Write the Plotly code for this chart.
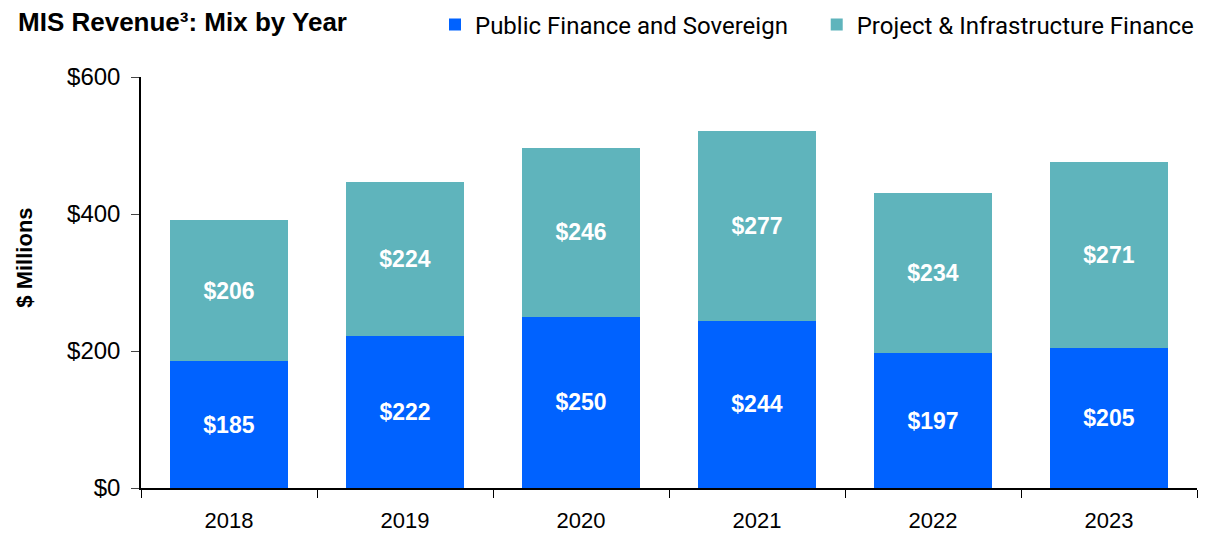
import plotly.graph_objects as go

years = ["2018", "2019", "2020", "2021", "2022", "2023"]
public_finance = [185, 222, 250, 244, 197, 205]
project_finance = [206, 224, 246, 277, 234, 271]

BLUE = "#0062FF"
TEAL = "#5FB4BC"
LABEL_FONT = dict(color="white", size=23, family="Liberation Sans, Arial", weight="bold")

# page has an 8px body margin, so the figure is sized to fill the rest of the window
W, H = 1207, 525

fig = go.Figure()
fig.add_trace(go.Bar(
    x=years, y=public_finance, name="Public Finance and Sovereign\u00a0\u00a0\u00a0\u00a0",
    marker=dict(color=BLUE, line=dict(width=0)),
    texttemplate="%{y}", textposition="inside", insidetextanchor="middle",
    textangle=0, textfont=LABEL_FONT,
))
fig.add_trace(go.Bar(
    x=years, y=project_finance, name="Project & Infrastructure Finance",
    marker=dict(color=TEAL, line=dict(width=0)),
    texttemplate="%{y}", textposition="inside", insidetextanchor="middle",
    textangle=0, textfont=LABEL_FONT,
))

fig.update_layout(
    barmode="stack",
    bargap=0.335,
    width=W, height=H,
    margin=dict(l=133, r=18, t=69, b=45, autoexpand=False),
    paper_bgcolor="white", plot_bgcolor="white",
    font=dict(family="Liberation Sans, Arial", color="black", size=20),
    title=dict(text="<b>MIS Revenue³: Mix by Year</b>", x=10 / W, xanchor="left", xref="container",
               y=1 - 14 / H, yanchor="middle", yref="container",
               font=dict(size=26, family="Liberation Sans, Arial", color="black")),
    legend=dict(orientation="h", x=1191 / W, xanchor="right", xref="container",
                y=1 - 17 / H, yanchor="middle", yref="container",
                font=dict(size=24, family="Roboto, Liberation Sans", color="black"),
                itemwidth=30, traceorder="normal", bgcolor="rgba(0,0,0,0)"),
    showlegend=True,
    uniformtext=dict(mode="show", minsize=10),
)
fig.update_xaxes(type="category", tickson="boundaries", ticks="outside", ticklen=8,
                 tickcolor="black", showline=True, linecolor="black", linewidth=1.5,
                 showgrid=False, automargin=False, ticklabelstandoff=12,
                 tickfont=dict(size=22, family="Liberation Sans, Arial"))
fig.update_yaxes(range=[0, 600], dtick=200, tickprefix="$", ticks="outside", ticklen=8,
                 tickcolor="#444", showline=True, linecolor="black", linewidth=1.5,
                 showgrid=False, zeroline=False, automargin=False, ticklabelstandoff=6,
                 tickfont=dict(size=24, family="Liberation Sans, Arial"))
fig.add_annotation(text="<b>$ Millions</b>", textangle=-90, xref="paper", yref="paper",
                   x=-0.11, y=0.56, xanchor="center", yanchor="middle", showarrow=False,
                   font=dict(size=22, family="Liberation Sans, Arial", color="black"))

fig.write_html("out.html")
